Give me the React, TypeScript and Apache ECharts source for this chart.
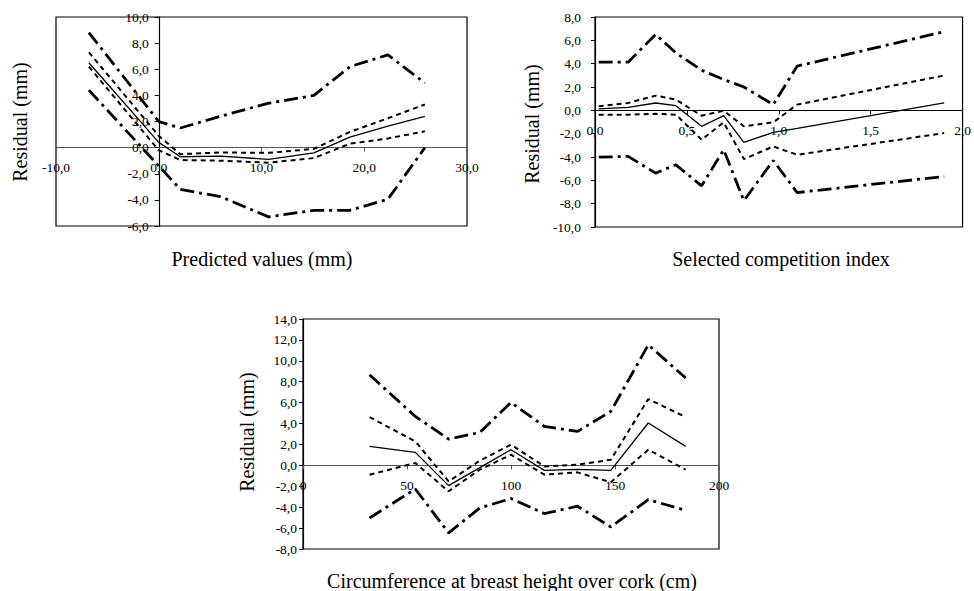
import React, { useEffect, useRef } from "react";
import * as echarts from "echarts";

// ---- Chart 1: Predicted values (mm)
const PRED_X = [-6.8, 0, 2.1, 6.0, 10.7, 15.1, 18.6, 22.3, 25.9];
const PRED_MEAN = [6.5, 0.4, -0.7, -0.65, -0.9, -0.4, 0.8, 1.65, 2.4];
const PRED_UP_DOT = [7.3, 0.9, -0.5, -0.37, -0.4, -0.1, 1.2, 2.25, 3.3];
const PRED_LO_DOT = [6.2, -0.2, -0.95, -1.0, -1.15, -0.8, 0.3, 0.7, 1.25];
const PRED_UP_DD = [8.8, 2.0, 1.5, 2.4, 3.4, 4.0, 6.2, 7.1, 4.95];
const PRED_LO_DD = [4.4, -1.4, -3.2, -3.75, -5.3, -4.8, -4.8, -3.95, 0.0];

// ---- Chart 2: Selected competition index
const CI_X = [0.02, 0.18, 0.33, 0.44, 0.58, 0.7, 0.81, 0.97, 1.1, 1.9];
const CI_MEAN = [0.12, 0.26, 0.63, 0.4, -1.37, -0.46, -2.75, -1.89, -1.55, 0.63];
const CI_UP_DOT = [0.34, 0.63, 1.26, 0.92, -0.46, -0.03, -1.37, -1.03, 0.49, 2.98];
const CI_LO_DOT = [-0.37, -0.37, -0.3, -0.37, -2.52, -1.03, -4.18, -3.1, -3.81, -1.95];
const CI_UP_DD = [4.13, 4.13, 6.51, 4.93, 3.44, 2.64, 2.0, 0.49, 3.79, 6.74];
const CI_LO_DD = [-4.01, -3.95, -5.38, -4.67, -6.47, -3.38, -7.74, -4.3, -7.05, -5.67];

// ---- Chart 3: Circumference at breast height over cork (cm)
const CBH_X = [32, 54, 70, 85, 100, 116, 132, 148, 166, 184];
const CBH_MEAN = [1.82, 1.24, -1.94, -0.22, 1.5, -0.48, -0.38, -0.48, 4.05, 1.82];
const CBH_UP_DOT = [4.62, 2.29, -1.53, 0.45, 1.98, -0.1, 0.06, 0.54, 6.34, 4.62];
const CBH_LO_DOT = [-0.89, 0.22, -2.48, -0.41, 1.02, -0.89, -0.67, -1.62, 1.5, -0.41];
const CBH_UP_DD = [8.66, 4.68, 2.52, 3.15, 6.02, 3.73, 3.25, 5.16, 11.53, 8.35];
const CBH_LO_DD = [-5.03, -2.26, -6.46, -4.07, -3.18, -4.61, -3.91, -5.89, -3.28, -4.3];

// axis ranges [min, max, interval]
const X_RANGES = [
  [-10, 30, 10],
  [0, 2, 0.5],
  [0, 200, 50],
];
const Y_RANGES = [
  [-6, 10, 2],
  [-10, 8, 2],
  [-8, 14, 2],
];

const Y_TITLE = "Residual (mm)";
const X_TITLES = [
  "Predicted values (mm)",
  "Selected competition index",
  "Circumference at breast height over cork (cm)",
];

const FONT = "Liberation Serif";

const comma1 = (v: number) => v.toFixed(1).replace(".", ",");
const intFmt = (v: number) => String(Math.round(v));

const pairs = (xs: number[], ys: number[]) => xs.map((x, i) => [x, ys[i]]);

const SOLID = { color: "#000", width: 1.3, type: "solid" };
const DOTTED = { color: "#000", width: 2, type: [5, 4] };
const DASHDOT = { color: "#000", width: 2.8, type: [14, 5, 3, 5] };

// grid boxes (layout)
const GRIDS = [
  { left: 56, top: 17, width: 411, height: 209 },
  { left: 595, top: 17, width: 369, height: 210 },
  { left: 303, top: 319, width: 416, height: 230 },
];

function lineSeries(idx: number, xs: number[], ys: number[], style: any) {
  return {
    type: "line",
    xAxisIndex: idx,
    yAxisIndex: idx,
    data: pairs(xs, ys),
    symbol: "none",
    showSymbol: false,
    lineStyle: style,
    silent: true,
    z: 3,
  };
}

export default function App() {
  const ref = useRef<HTMLDivElement>(null);

  useEffect(() => {
    if (!ref.current) return;
    const chart = echarts.init(ref.current, null, { renderer: "svg" });

    const labelBase = { color: "#000", fontFamily: FONT, fontSize: 13.5 };

    const xAxis = (i: number, fmt: any, color: string) => {
      const [min, max, interval] = X_RANGES[i];
      const [ymin, ymax] = Y_RANGES[i];
      const offset = -GRIDS[i].height * ((0 - ymin) / (ymax - ymin));
      return {
        type: "value",
        gridIndex: i,
        min,
        max,
        interval,
        position: "bottom",
        offset,
        axisLine: { show: true, onZero: false, lineStyle: { color, width: 1.2 } },
        axisTick: { show: true, length: 4, lineStyle: { color } },
        axisLabel: { ...labelBase, formatter: fmt, margin: 13 },
        splitLine: { show: false },
      };
    };
    const yAxis = (i: number, margin: number) => {
      const [min, max, interval] = Y_RANGES[i];
      const [xmin, xmax] = X_RANGES[i];
      const offset = -GRIDS[i].width * ((0 - xmin) / (xmax - xmin));
      return {
        type: "value",
        gridIndex: i,
        min,
        max,
        interval,
        position: "left",
        offset,
        axisLine: { show: true, onZero: false, lineStyle: { color: "#000", width: 1.2 } },
        axisTick: { show: true, length: 4, lineStyle: { color: "#000" } },
        axisLabel: { ...labelBase, formatter: comma1, margin },
        splitLine: { show: false },
      };
    };

    const titleText = (x: number, y: number, text: string, rotate: boolean) => ({
      type: "text",
      x,
      y,
      rotation: rotate ? Math.PI / 2 : 0,
      style: {
        text,
        fill: "#000",
        fontFamily: FONT,
        fontSize: 20,
        textAlign: "center",
        textVerticalAlign: "middle",
      },
      silent: true,
    });

    chart.setOption({
      animation: false,
      backgroundColor: "#fff",
      grid: GRIDS.map((g) => ({
        ...g,
        show: true,
        borderColor: "#000",
        borderWidth: 1.2,
        backgroundColor: "transparent",
      })),
      xAxis: [xAxis(0, comma1, "#555"), xAxis(1, comma1, "#000"), xAxis(2, intFmt, "#555")],
      yAxis: [yAxis(0, 10), yAxis(1, 14), yAxis(2, 6)],
      series: [
        lineSeries(0, PRED_X, PRED_UP_DD, DASHDOT),
        lineSeries(0, PRED_X, PRED_UP_DOT, DOTTED),
        lineSeries(0, PRED_X, PRED_MEAN, SOLID),
        lineSeries(0, PRED_X, PRED_LO_DOT, DOTTED),
        lineSeries(0, PRED_X, PRED_LO_DD, DASHDOT),

        lineSeries(1, CI_X, CI_UP_DD, DASHDOT),
        lineSeries(1, CI_X, CI_UP_DOT, DOTTED),
        lineSeries(1, CI_X, CI_MEAN, SOLID),
        lineSeries(1, CI_X, CI_LO_DOT, DOTTED),
        lineSeries(1, CI_X, CI_LO_DD, DASHDOT),

        lineSeries(2, CBH_X, CBH_UP_DD, DASHDOT),
        lineSeries(2, CBH_X, CBH_UP_DOT, DOTTED),
        lineSeries(2, CBH_X, CBH_MEAN, SOLID),
        lineSeries(2, CBH_X, CBH_LO_DOT, DOTTED),
        lineSeries(2, CBH_X, CBH_LO_DD, DASHDOT),
      ],
      graphic: [
        titleText(20, 122, Y_TITLE, true),
        titleText(262, 259, X_TITLES[0], false),
        titleText(532, 124, Y_TITLE, true),
        titleText(781, 259, X_TITLES[1], false),
        titleText(247, 432, Y_TITLE, true),
        titleText(512, 581, X_TITLES[2], false),
      ],
    });

    return () => chart.dispose();
  }, []);

  return (
    <div
      ref={ref}
      style={{ position: "absolute", left: 0, top: 0, width: 974, height: 591, background: "#fff" }}
    />
  );
}
